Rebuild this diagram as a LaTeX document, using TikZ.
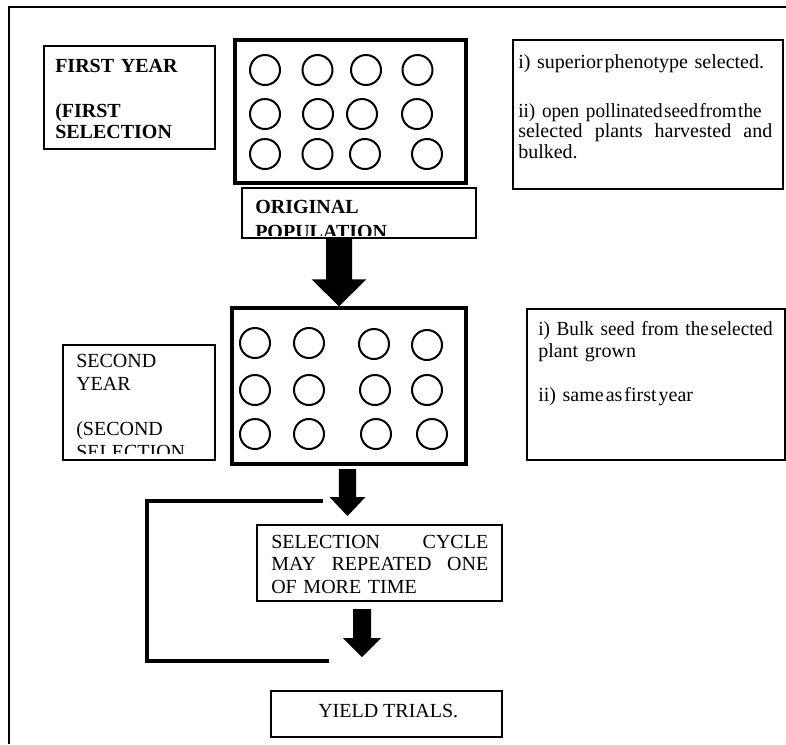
\documentclass[tikz,border=0pt]{standalone}
\usepackage{fontspec}
\setmainfont{Liberation Serif}
\newfontfamily\narrowserif{Liberation Serif}[FakeStretch=0.96]
\usetikzlibrary{calc}
\newcommand\blockarrow[5]{%
  \fill let \p1=(#1), \p2=(#2) in
    (\x1-#3,\y1) -- (\x1+#3,\y1) -- (\x1+#3,\y2+#5) -- (\x1+#4,\y2+#5)
    -- (\x2,\y2) -- (\x1-#4,\y2+#5) -- (\x1-#3,\y2+#5) -- cycle;}
\tikzset{
  thinbox/.style={draw, line width=1.1pt, inner sep=0pt},
  plantbox/.style={draw, line width=2.6pt, inner sep=0pt},
  plant/.style={circle, draw, line width=1.5pt, minimum size=22.5pt, inner sep=0pt},
  txt/.style={anchor=base west, inner sep=0pt, align=left},
  loopline/.style={line width=3pt, line join=miter},
}
\begin{document}
\begin{tikzpicture}[x=0.75pt, y=-0.75pt]
\path[use as bounding box] (0,0) rectangle (786,744);
% outer frame
\coordinate (fbl) at (9,744);
\coordinate (ftl) at (9,7);
\coordinate (ftr) at (786,7);
\draw[line width=1.5pt] (fbl) -- (ftl) -- (ftr);

% boxes
\node[thinbox, minimum width=128.25pt, minimum height=77.25pt] (fy) at (129.5,97.5) {};
\node[plantbox, minimum width=173.25pt, minimum height=107.25pt] (pb1) at (350.5,111.5) {};
\node[thinbox, minimum width=175.5pt, minimum height=37.5pt] (orig) at (359,213) {};
\node[thinbox, minimum width=202.5pt, minimum height=111.75pt] (tb1) at (648,114.5) {};
\node[thinbox, minimum width=114pt, minimum height=86.25pt] (sy) at (139,402.5) {};
\node[plantbox, minimum width=175.5pt, minimum height=117pt] (pb2) at (349,386) {};
\node[thinbox, minimum width=193.5pt, minimum height=113.25pt] (tb2) at (656,384.5) {};
\node[thinbox, minimum width=183.75pt, minimum height=57pt] (sel) at (379.5,563) {};
\node[thinbox, minimum width=173.25pt, minimum height=34.5pt] (yield) at (386.5,714) {};

% plants, first year
\foreach \x/\y/\n in {265/70/a1,317.5/70/a2,366/70/a3,417.5/70/a4,
                      265/114/a5,318/114/a6,362/114/a7,417/114/a8,
                      265/154/a9,317.5/154/a10,365/154/a11,427/154/a12}
  \node[plant] (\n) at (\x,\y) {};
% plants, second year
\foreach \x/\y/\n in {255/343/b1,309/343/b2,374/344/b3,427/345/b4,
                      255/390/b5,309/390/b6,375/390/b7,427/390/b8,
                      255/434/b9,309/434/b10,376/434/b11,432/434/b12}
  \node[plant] (\n) at (\x,\y) {};

% texts
\node[txt, text width=112pt, font=\fontsize{15}{15.75}\selectfont\bfseries] (fyt) at (55,72)
  {FIRST YEAR\\[18pt](FIRST\\SELECTION};
\begin{scope}
\clip (242,188) rectangle (476,235);
\node[txt, text width=165pt, font=\fontsize{15}{15.75}\selectfont\bfseries] (origt) at (255,213)
  {ORIGINAL\\[3.5pt]POPULATION};
\end{scope}
\node[txt, text width=190.5pt, font=\fontsize{15}{15.4}\selectfont] (tb1t) at (518,68)
  {\mbox{i) superior\hspace{1.5pt}phenotype selected.}\\[21.4pt]
   \mbox{\narrowserif ii) open pollinated\hspace{1pt}seed\hspace{1pt}from\hspace{1pt}the}\\
   selected\hfill plants\hfill harvested\hfill and\\
   bulked.};
\begin{scope}
\clip (63,345) rectangle (215,453);
\node[txt, text width=100pt, font=\fontsize{15}{17.25}\selectfont] (syt) at (76,367)
  {SECOND\\YEAR\\[16.5pt](SECOND\\SELECTION};
\end{scope}
\node[txt, text width=175.5pt, font=\fontsize{15}{16.5}\selectfont] (tb2t) at (538,335)
  {\mbox{\narrowserif i) Bulk seed from the\hspace{1.5pt}selected}\\\mbox{plant grown}\\[16.5pt]\mbox{ii) same\hspace{1.5pt}as\hspace{1.5pt}first\hspace{1.5pt}year}};
\node[txt, text width=162.75pt, font=\fontsize{15}{16.9}\selectfont] (selt) at (271,548)
  {SELECTION\hfill CYCLE\\MAY\hfill REPEATED\hfill ONE\\OF MORE TIME};
\node[txt, font=\fontsize{15}{16.9}\selectfont] (yieldt) at (318,717) {YIELD TRIALS.};

% arrows
\coordinate (a1s) at ($(orig.south)+(-20,0)$);
\coordinate (a1e) at ($(pb2.north)+(-10,0)$);
\blockarrow{a1s}{a1e}{9.75pt}{20.6pt}{20.25pt}
\coordinate (a2s) at (347.5,469);
\coordinate (a2e) at (347.5,516);
\blockarrow{a2s}{a2e}{6.4pt}{13.5pt}{14.25pt}
\coordinate (a3s) at (362,609);
\coordinate (a3e) at (362,657);
\blockarrow{a3s}{a3e}{6.75pt}{14.25pt}{14.25pt}

% loop line
\coordinate (l1) at (323,501);
\coordinate (l2) at (147,501);
\coordinate (l3) at (147,660.5);
\coordinate (l4) at (329,660.5);
\draw[loopline] (l1) -- (l2) -- (l3) -- (l4);
\end{tikzpicture}
\end{document}
